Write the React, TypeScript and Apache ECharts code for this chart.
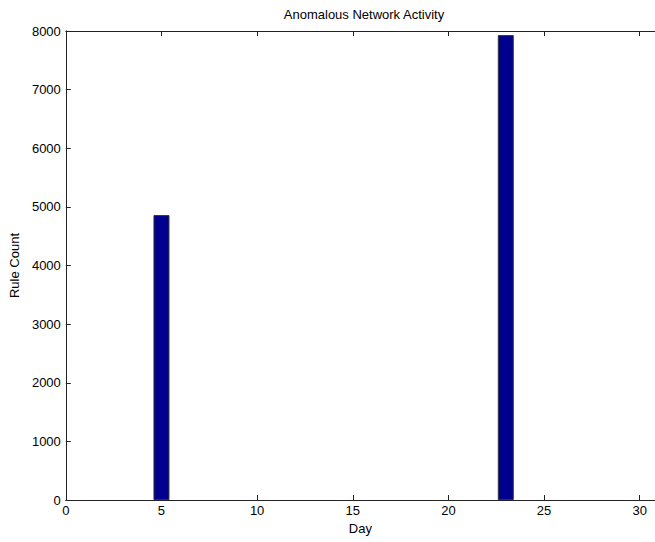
import React, { useEffect, useRef } from "react";
import * as echarts from "echarts";

const days: number[] = [5, 23];
const ruleCounts: number[] = [4860, 7930];
const yTicks: number[] = [0, 1000, 2000, 3000, 4000, 5000, 6000, 7000, 8000];
const xTicks: number[] = [0, 5, 10, 15, 20, 25, 30];

export default function App() {
  const ref = useRef<HTMLDivElement>(null);
  useEffect(() => {
    if (!ref.current) return;
    const chart = echarts.init(ref.current, undefined, { renderer: "svg" });
    const font = "Liberation Sans, Arial, sans-serif";
    const axisLine = { show: true, lineStyle: { color: "#222", width: 1 } };
    chart.setOption({
      animation: false,
      backgroundColor: "#fff",
      title: {
        text: "Anomalous Network Activity",
        left: 359,
        textAlign: "center",
        top: 3,
        textStyle: { fontFamily: font, fontSize: 13, fontWeight: "normal", color: "#000" },
      },
      grid: { left: 63, top: 31, right: 0, bottom: 42, containLabel: false },
      xAxis: [
        {
          type: "value",
          min: 0,
          max: 30.8,
          interval: 5,
          name: "Day",
          nameLocation: "middle",
          nameGap: 22,
          nameTextStyle: { fontFamily: font, fontSize: 13, color: "#000" },
          axisLine,
          axisTick: { show: true, inside: true, length: 5, lineStyle: { color: "#222" } },
          axisLabel: {
            fontFamily: font,
            fontSize: 13,
            color: "#000",
            margin: 4,
            showMaxLabel: false,
            formatter: (v: number) => (xTicks.includes(v) ? String(v) : ""),
          },
          splitLine: { show: false },
        },
        {
          type: "value",
          position: "top",
          min: 0,
          max: 30.8,
          interval: 5,
          axisLine,
          axisTick: { show: true, inside: true, length: 5, lineStyle: { color: "#222" } },
          axisLabel: { show: false },
          splitLine: { show: false },
        },
      ],
      yAxis: [
        {
          type: "value",
          min: 0,
          max: 8000,
          interval: 1000,
          name: "Rule Count",
          nameLocation: "middle",
          nameGap: 42,
          nameTextStyle: { fontFamily: font, fontSize: 13, color: "#000" },
          axisLine,
          axisTick: { show: true, inside: true, length: 5, lineStyle: { color: "#222" } },
          axisLabel: {
            fontFamily: font,
            fontSize: 13,
            color: "#000",
            margin: 5,
            formatter: (v: number) => (yTicks.includes(v) ? String(v) : ""),
          },
          splitLine: { show: false },
        },
      ],
      series: [
        {
          type: "bar",
          xAxisIndex: 0,
          yAxisIndex: 0,
          barWidth: 16,
          data: days.map((d, i) => [d, ruleCounts[i]]),
          itemStyle: { color: "#00008F", borderColor: "#333", borderWidth: 1 },
        },
      ],
    });
    return () => chart.dispose();
  }, []);
  return (
    <div
      ref={ref}
      style={{ position: "fixed", left: 0, top: 0, width: 655, height: 542, background: "#fff" }}
    />
  );
}
